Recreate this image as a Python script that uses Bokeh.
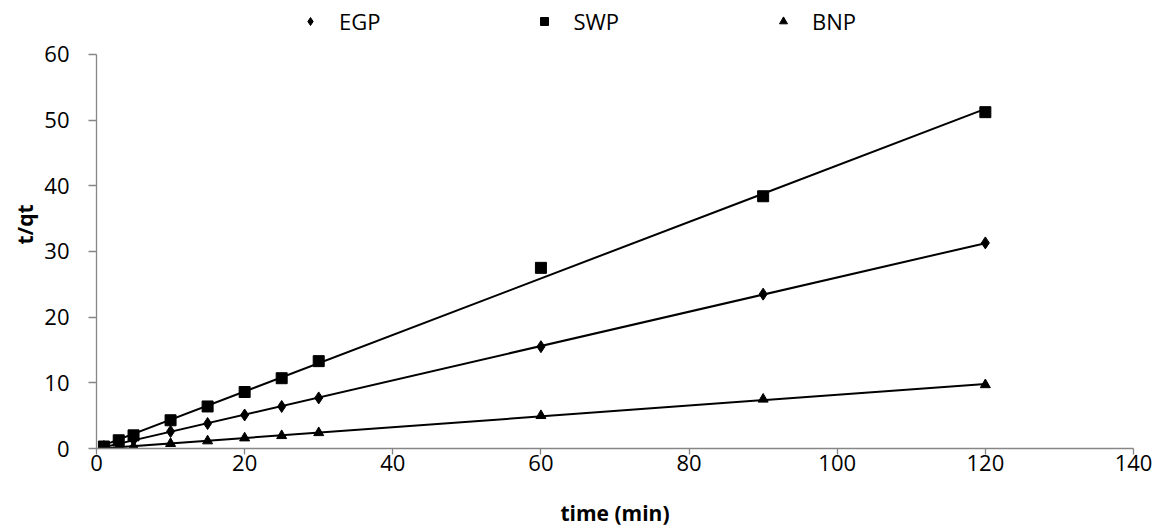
import numpy as np
from bokeh.plotting import figure
from bokeh.models import Range1d, Legend, LegendItem, ColumnDataSource
from bokeh.embed import file_html
from bokeh.resources import INLINE

time_min = [1, 3, 5, 10, 15, 20, 25, 30, 60, 90, 120]
egp = [0.3, 0.8, 1.3, 2.6, 3.8, 5.1, 6.4, 7.7, 15.5, 23.5, 31.3]
swp = [0.3, 1.25, 2.0, 4.3, 6.4, 8.6, 10.7, 13.3, 27.5, 38.4, 51.2]
bnp = [0.08, 0.2, 0.3, 0.75, 1.15, 1.6, 1.95, 2.4, 5.0, 7.5, 9.7]
series_names = ["EGP", "SWP", "BNP"]
x_ticks = [0, 20, 40, 60, 80, 100, 120, 140]
y_ticks = [0, 10, 20, 30, 40, 50, 60]

FONT = "Open Sans"
FS = "22px"

# frame spans the full top so the legend (drawn inside the frame) is not clipped;
# the y axis itself is bounded to 0..60
p = figure(width=1160, height=529, output_backend="svg", toolbar_location=None,
           x_range=Range1d(0, 140), y_range=Range1d(0, 68.2),
           min_border_left=96, min_border_right=27, min_border_top=0, min_border_bottom=80)
p.outline_line_color = None
p.grid.grid_line_color = None

for ax in (p.xaxis[0], p.yaxis[0]):
    ax.axis_line_color = "#868686"
    ax.axis_line_width = 1.3
    ax.major_tick_line_color = "#868686"
    ax.major_tick_line_width = 1.3
    ax.major_tick_in = 0
    ax.minor_tick_line_color = None
    ax.major_label_text_font = FONT
    ax.major_label_text_font_size = FS
    ax.major_label_text_color = "#000000"
    ax.axis_label_text_font = FONT
    ax.axis_label_text_font_size = "21px"
    ax.axis_label_text_font_style = "bold"
    ax.axis_label_text_color = "#000000"

p.xaxis.ticker = x_ticks
p.yaxis.ticker = y_ticks
p.yaxis.bounds = (0, 60)
p.xaxis.axis_label = "time (min)"
p.yaxis.axis_label = "t/qt"
p.xaxis.major_tick_out = 6
p.yaxis.major_tick_out = 8
p.xaxis.major_label_standoff = 0
p.yaxis.major_label_standoff = 19
p.xaxis.axis_label_standoff = 25
p.yaxis.axis_label_standoff = 2

xs = np.array(time_min, dtype=float)
items = []
markers = [("diamond", 12), ("square", 11), ("triangle", 10)]
for name, ys, (mk, sz) in zip(series_names, [egp, swp, bnp], markers):
    k, b = np.polyfit(xs, np.array(ys), 1)
    xl = np.array([xs.min(), xs.max()])
    p.line(xl, k * xl + b, line_color="black", line_width=2)
    src = ColumnDataSource(dict(x=time_min, y=ys))
    r = p.scatter("x", "y", source=src, marker=mk, size=sz,
                  fill_color="black", line_color="black")
    items.append(LegendItem(label=name, renderers=[r]))

legend = Legend(items=items, orientation="horizontal", location=(204, 412),
                label_text_font=FONT, label_text_font_size=FS,
                label_text_color="#000000", spacing=154, label_standoff=19,
                glyph_width=20, border_line_color=None, background_fill_alpha=0,
                margin=0, padding=0)
p.add_layout(legend, "center")

open("out.html", "w").write(file_html(p, INLINE))
